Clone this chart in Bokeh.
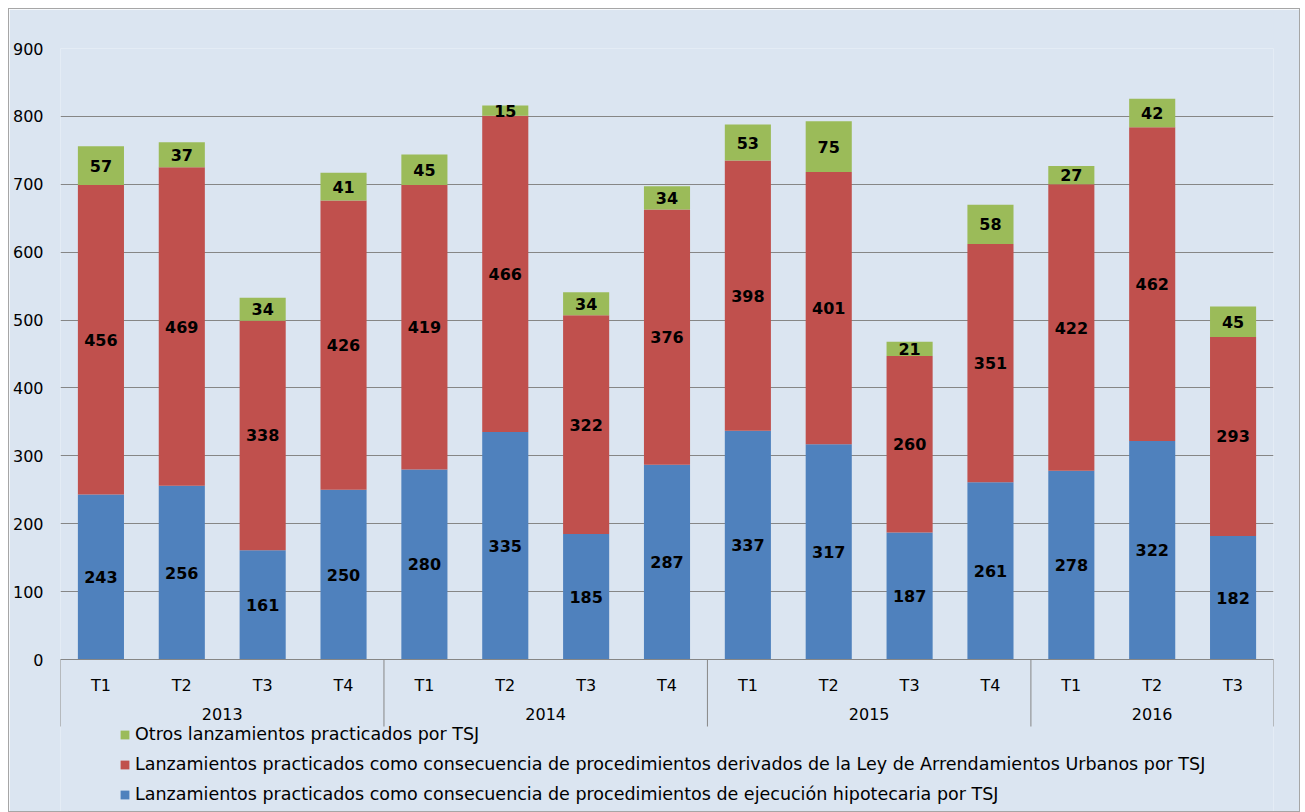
from bokeh.plotting import figure
from bokeh.models import (ColumnDataSource, FactorRange, Range1d, FixedTicker,
                          Legend, LegendItem)
from bokeh.core.properties import value
from bokeh.embed import file_html
from bokeh.resources import INLINE

years = ["2013", "2013", "2013", "2013", "2014", "2014", "2014", "2014",
         "2015", "2015", "2015", "2015", "2016", "2016", "2016"]
quarters = ["T1", "T2", "T3", "T4", "T1", "T2", "T3", "T4",
            "T1", "T2", "T3", "T4", "T1", "T2", "T3"]
hipotecaria = [243, 256, 161, 250, 280, 335, 185, 287, 337, 317, 187, 261, 278, 322, 182]
arrendamientos = [456, 469, 338, 426, 419, 466, 322, 376, 398, 401, 260, 351, 422, 462, 293]
otros = [57, 37, 34, 41, 45, 15, 34, 34, 53, 75, 21, 58, 27, 42, 45]
y_ticks = [0, 100, 200, 300, 400, 500, 600, 700, 800, 900]

names = ["Lanzamientos practicados como consecuencia de procedimientos de ejecución hipotecaria por TSJ",
         "Lanzamientos practicados como consecuencia de procedimientos derivados de la Ley de Arrendamientos Urbanos por TSJ",
         "Otros lanzamientos practicados por TSJ"]
colors = ["#4F81BD", "#C0504D", "#9BBB59"]

FONT = "DejaVu Sans"
BG = "#DBE5F1"
GRID = "#868686"

# layout (pixels)
W, H = 1292, 804
TOP, LEFT, RIGHT = 39, 51, 28
PLOT_H = 611                    # height of the 0..900 area
BELOW = H - TOP - PLOT_H        # room under the zero line for axis + legend
units_per_px = 900 / PLOT_H
y_min = -BELOW * units_per_px

factors = list(zip(years, quarters))
src = ColumnDataSource(dict(
    x=factors,
    hipo=hipotecaria,
    lau=arrendamientos,
    otros=otros,
    y_hipo=[h / 2 for h in hipotecaria],
    y_lau=[h + a / 2 for h, a in zip(hipotecaria, arrendamientos)],
    y_otros=[h + a + o / 2 for h, a, o in zip(hipotecaria, arrendamientos, otros)],
    t_hipo=[str(v) for v in hipotecaria],
    t_lau=[str(v) for v in arrendamientos],
    t_otros=[str(v) for v in otros],
))

xr = FactorRange(*factors, group_padding=0, factor_padding=0, range_padding=0)
p = figure(width=W, height=H, x_range=xr, y_range=Range1d(y_min, 900),
           output_backend="svg", toolbar_location=None,
           min_border_left=LEFT, min_border_right=RIGHT, min_border_top=TOP,
           min_border_bottom=0, margin=(8, 5, 0, 8),
           styles={"border": "1px solid #A6A6A6", "box-sizing": "border-box"})
p.background_fill_color = BG
p.border_fill_color = BG
p.outline_line_color = None

rs = p.vbar_stack(["hipo", "lau", "otros"], x="x", width=0.57, color=colors,
                  line_color=None, source=src)

for ycol, tcol in [("y_hipo", "t_hipo"), ("y_lau", "t_lau"), ("y_otros", "t_otros")]:
    p.text(x="x", y=ycol, text=tcol, source=src, text_align="center",
           text_baseline="middle", text_font=value(FONT), text_font_style="bold",
           text_font_size="16px", text_color="#000000")

# separator lines of the two-level category axis (edges and year boundaries)
bounds = [0] + [i for i in range(1, len(years)) if years[i] != years[i - 1]] + [len(years)]
sep_depth = -67 * units_per_px
p.segment(x0=bounds, x1=bounds, y0=[0] * len(bounds), y1=[sep_depth] * len(bounds),
          line_color=GRID, line_width=1)

# y axis
p.yaxis.ticker = FixedTicker(ticks=y_ticks)
p.yaxis.axis_line_color = None
p.yaxis.major_tick_line_color = None
p.yaxis.minor_tick_line_color = None
p.yaxis.major_tick_out = 0
p.yaxis.major_tick_in = 0
p.yaxis.minor_tick_out = 0
p.yaxis.major_label_text_font = FONT
p.yaxis.major_label_text_font_size = "16px"
p.yaxis.major_label_text_color = "#000000"
p.yaxis.major_label_standoff = 17
p.ygrid.ticker = FixedTicker(ticks=y_ticks)
p.ygrid.grid_line_color = GRID
p.ygrid.grid_line_width = 1
p.xgrid.grid_line_color = None

# x axis (two levels) pinned at y = 0
xa = p.xaxis[0]
xa.fixed_location = 0
xa.axis_line_color = GRID
xa.major_tick_line_color = None
xa.minor_tick_line_color = None
xa.major_label_text_font = FONT
xa.major_label_text_font_size = "16px"
xa.major_label_text_color = "#000000"
xa.group_text_font = FONT
xa.group_text_font_size = "16px"
xa.group_text_color = "#000000"
xa.group_text_font_style = "normal"
xa.separator_line_color = None
xa.major_label_standoff = 10

legend = Legend(items=[LegendItem(label=names[i], renderers=[rs[i]]) for i in [2, 1, 0]],
                orientation="vertical", location=(59, 9),
                label_text_font=FONT, label_text_font_size="17.5px",
                label_text_color="#000000", glyph_width=11, glyph_height=11,
                label_height=20, spacing=10, padding=0, margin=0,
                label_standoff=5, background_fill_alpha=0, border_line_color=None)
p.add_layout(legend, "center")

open("out.html", "w").write(file_html(p, INLINE))
